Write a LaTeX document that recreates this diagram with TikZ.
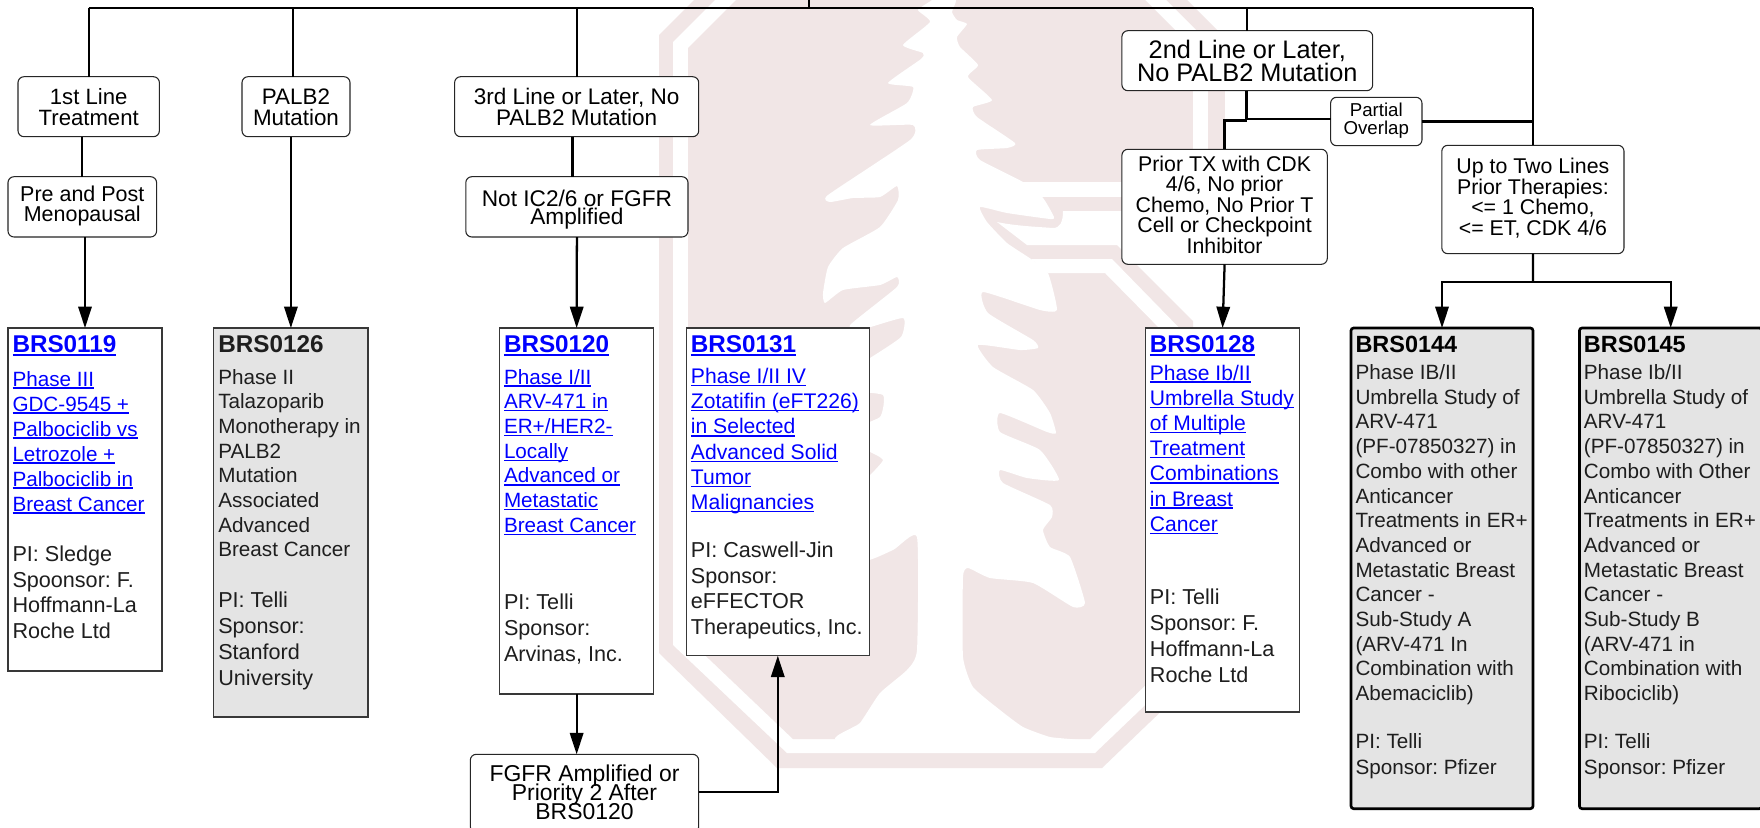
\documentclass[tikz,border=0pt]{standalone}
\usepackage{fontspec}
\setmainfont{Liberation Sans}
\usetikzlibrary{arrows.meta}
\definecolor{logopink}{HTML}{F1E6E6}
\definecolor{linkblue}{HTML}{0000FF}
\definecolor{ink}{HTML}{1E1E1E}
\definecolor{panel}{HTML}{E4E4E4}
\newdimen\px \px=.75pt
\newcommand\lk[1]{\leavevmode\setbox0=\hbox{#1}\rlap{\rule[-2.7\px]{\wd0}{1.3\px}}\box0}
\newcommand\hlk[1]{\leavevmode\setbox0=\hbox{#1}\rlap{\rule[-3.2\px]{\wd0}{1.8\px}}\box0}
\newcommand\hdr[1]{\rule{0pt}{24.5\px}{\fontsize{18.2}{18}\selectfont\bfseries #1}\par}
\newcommand\hdrb[1]{\rule{0pt}{24.5\px}{\fontsize{17.6}{18}\selectfont\bfseries #1}\par}
\newcommand\blk[3]{{\setlength\baselineskip{#2\px}\vspace{\dimexpr#1\px-#2\px\relax}#3\par}}
\newcommand\pib[3]{{\fontsize{16.2}{18.5}\selectfont\setlength\baselineskip{#2\px}\vspace{\dimexpr#1\px-#2\px\relax}#3\par}}
\newcommand\studynode[7]{\node[#6] (#1) at ({(#2+#4)/2},{(#3+#5)/2})
  {\parbox[c][\dimexpr#5\px-#3\px\relax][t]{\dimexpr#4\px-#2\px\relax}{\raggedright\frenchspacing\leftskip=4.5\px\lineskiplimit=-100pt\fontsize{15.5}{18.5}\selectfont #7}};}
\newcommand\decnode[9]{\node[decbox] (#1) at ({(#2+#4)/2},{(#3+#5)/2})
  {\parbox[c][\dimexpr#5\px-#3\px\relax][t]{\dimexpr#4\px-#2\px\relax}{\centering\frenchspacing\lineskiplimit=-100pt\fontsize{#7}{#8}\selectfont\rule{0pt}{#6\px}#9}};}
\tikzset{
  decbox/.style={draw=black!85,line width=.8pt,rounded corners=4.5pt,fill=white,inner sep=0pt,outer sep=0pt,text=black},
  studywhite/.style={draw=black!78,line width=.85pt,fill=white,inner sep=0pt,outer sep=0pt,text=ink},
  studygray/.style={draw=black!78,line width=.85pt,fill=panel,inner sep=0pt,outer sep=0pt,text=ink},
  studybold/.style={draw=black,line width=2pt,rounded corners=2pt,fill=panel,inner sep=0pt,outer sep=0pt,text=ink},
  conn/.style={draw=black,line width=1.7pt},
  arrowconn/.style={conn,-{Triangle[length=16pt,width=10pt]}},
}
\begin{document}
\begin{tikzpicture}[x=.75pt,y=-.75pt]
\useasboundingbox (0,0) rectangle (1760,828);
\clip (0,0) rectangle (1760,828);
\fill[white] (0,0) rectangle (1760,828);
% background emblem
\fill[logopink] (659,35) -- (694,0) -- (1187,0) -- (1222,35) -- (1222,653) -- (1102,768) -- (777,768) -- (659,653) -- cycle;
\fill[white] (673,42) -- (715,0) -- (1166,0) -- (1208,42) -- (1208,645) -- (1095,753) -- (787,753) -- (673,645) -- cycle;
\fill[logopink] (688,48) -- (736,0) -- (1145,0) -- (1193,48) -- (1193,639) -- (1090,739) -- (793,739) -- (688,639) -- cycle;
\fill[logopink] (1193,30) rectangle (1225,200);
\fill[white] (1193,42) rectangle (1208,197);
\fill[white] (1023,182) rectangle (1208,197);
\fill[white] (997,222) .. controls (1015,226) and (1040,227) .. (1053,228) .. controls (1060,228) and (1063,222) .. (1063,211) -- (1230,211) -- (1230,245) -- (1027,245) -- cycle;
\fill[white] (1117,245) -- (1240,245) -- (1240,368) -- cycle;
\fill[white] (1031,259) -- (1112,259) -- (1230,380) -- (1230,400) -- (1105,273) -- (1048,273) -- cycle;
\fill[white] plot[smooth cycle,tension=.3] coordinates {
 (945,-14) (956,0) (952,12) (957,20) (967,24) (957,37) (960,47) (978,65) (968,77) (992,100) (973,107) (977,117) (1015,143) (1007,148) (977,150) (980,160) (1023,182)
 (1043,198) (1054,217) (1050,219) (1007,213) (980,207) (987,222) (1007,243) (1031,259) (1048,273) (1057,310) (1040,310) (983,292) (988,313) (1033,340) (1038,348) (1020,350) (978,345) (993,367) (1033,390) (1050,413) (1056,433) (1047,432) (1000,413) (1000,432) (1040,450) (1059,480) (1027,478) (1000,470) (1003,483) (1050,505) (1052,517) (1043,530) (1050,547) (1070,557) (1085,603) (1073,607) (1033,583) (990,578) (968,568) (963,577) (963,657) (973,687) (1000,710) (1023,727) (1050,737) (1080,741)
 (840,741) (860,723) (880,693) (907,670) (917,650) (917,537) (893,550) (860,560) (850,490) (870,475) (883,460) (870,452) (850,445) (850,430) (880,417) (883,395) (850,390) (850,370) (870,358) (901,337) (903,318) (860,330) (850,325) (897,287) (897,277) (880,285) (843,290) (825,303) (823,293) (828,267) (843,248) (880,227) (898,200) (897,186) (880,197) (853,198) (830,202) (828,195) (910,140) (913,125) (870,125) (907,103) (913,87) (888,83) (921,59) (923,53) (903,45) (930,22) (918,10) (932,0)};
% decision nodes
\decnode{firstline}{18}{76.7}{159.4}{136.7}{27.6}{16.6}{15.75}{1st Line\\Treatment}
\decnode{palb}{242}{76.7}{350}{136.7}{27.6}{16.8}{15.75}{PALB2\\Mutation}
\decnode{thirdline}{454.6}{76.7}{698.7}{136.7}{27.6}{16.9}{15.75}{3rd Line or Later, No\\PALB2 Mutation}
\decnode{premeno}{8}{176.7}{156.6}{237}{24.6}{16.1}{15.4}{Pre and Post\\Menopausal}
\decnode{notic}{465.8}{176.7}{688}{237}{29.3}{17}{14.2}{Not IC2/6 or FGFR\\Amplified}
\decnode{fgfr}{470.3}{754.3}{698.7}{832.5}{27.3}{17.2}{14.3}{FGFR Amplified or\\Priority 2 After\\BRS0120}
\decnode{secondline}{1121.9}{30.7}{1372.7}{90.7}{27.5}{19}{17.5}{2nd Line or Later,\\No PALB2 Mutation}
\decnode{partial}{1330.6}{97.3}{1422}{145.7}{19.5}{14}{13.5}{Partial\\Overlap}
\decnode{priortx}{1121.9}{149.3}{1327.3}{264.3}{21.7}{16}{15.4}{Prior TX with CDK\\4/6, No prior\\Chemo, No Prior T\\Cell or Checkpoint\\Inhibitor}
\decnode{upto}{1441.8}{145.3}{1624}{253.7}{28.3}{16}{15.4}{Up to Two Lines\\Prior Therapies:\\<= 1 Chemo,\\<= ET, CDK 4/6}
% study nodes
\studynode{b119}{8}{328}{162}{671}{studywhite}{\hdr{\color{linkblue}\hlk{BRS0119}}
 \blk{33.5}{25}{\color{linkblue}\lk{Phase III}\\\lk{GDC-9545 +}\\\lk{Palbociclib vs}\\\lk{Letrozole +}\\\lk{Palbociclib in}\\\lk{Breast Cancer}}
 \pib{50.5}{25.7}{PI: Sledge\\Spoonsor: F.\\Hoffmann-La\\Roche Ltd}}
\studynode{b126}{213.8}{328}{368}{717}{studygray}{\hdr{BRS0126}
 \blk{31.5}{24.7}{Phase II\\Talazoparib\\Monotherapy in\\PALB2\\Mutation\\Associated\\Advanced\\Breast Cancer}
 \pib{51}{25.7}{PI: Telli\\Sponsor:\\Stanford\\University}}
\studynode{b120}{499.5}{328}{653.8}{694}{studywhite}{\hdr{\color{linkblue}\hlk{BRS0120}}
 \blk{31.5}{24.7}{\color{linkblue}\lk{Phase I/II}\\\lk{ARV-471 in}\\\lk{ER+/HER2-}\\\lk{Locally}\\\lk{Advanced or}\\\lk{Metastatic}\\\lk{Breast Cancer}}
 \pib{77}{26}{PI: Telli\\Sponsor:\\Arvinas, Inc.}}
\studynode{b131}{686.4}{328}{869.3}{655.7}{studywhite}{\fontsize{15.85}{18.5}\selectfont\hdr{\color{linkblue}\hlk{BRS0131}}
 \blk{31}{25.2}{\color{linkblue}\lk{Phase I/II IV}\\\lk{Zotatifin (eFT226)}\\\lk{in Selected}\\\lk{Advanced Solid}\\\lk{Tumor}\\\lk{Malignancies}}
 \pib{48}{25.7}{PI: Caswell-Jin\\Sponsor:\\eFFECTOR\\Therapeutics, Inc.}}
\studynode{b128}{1145.4}{328}{1299.8}{712}{studywhite}{\fontsize{15.8}{18.5}\selectfont\hdr{\color{linkblue}\hlk{BRS0128}}
 \blk{27.5}{25.2}{\color{linkblue}\lk{Phase Ib/II}\\\lk{Umbrella Study}\\\lk{of Multiple}\\\lk{Treatment}\\\lk{Combinations}\\\lk{in Breast}\\\lk{Cancer}}
 \pib{73}{26}{PI: Telli\\Sponsor: F.\\Hoffmann-La\\Roche Ltd}}
\studynode{b144}{1351}{328}{1533}{808.7}{studybold}{\hdrb{\color{black}BRS0144}
 \blk{27}{24.7}{Phase IB/II\\Umbrella Study of\\ARV-471\\(PF-07850327) in\\Combo with other\\Anticancer\\Treatments in ER+\\Advanced or\\Metastatic Breast\\Cancer -\\Sub-Study A\\(ARV-471 In\\Combination with\\Abemaciclib)}
 \blk{48}{26}{PI: Telli\\Sponsor: Pfizer}}
\studynode{b145}{1579.4}{328}{1762}{808.7}{studybold}{\hdrb{\color{black}BRS0145}
 \blk{27}{24.7}{Phase Ib/II\\Umbrella Study of\\ARV-471\\(PF-07850327) in\\Combo with Other\\Anticancer\\Treatments in ER+\\Advanced or\\Metastatic Breast\\Cancer -\\Sub-Study B\\(ARV-471 in\\Combination with\\Ribociclib)}
 \blk{48}{26}{PI: Telli\\Sponsor: Pfizer}}
% connectors
\coordinate (root) at (809,0);
\coordinate (bus) at (809,8);
\coordinate (palbin) at (293,76.7);
\coordinate (thirdout) at (572.4,136.7);
\coordinate (branchl) at (1246.5,119);
\coordinate (branchp) at (1246.5,120.5);
\coordinate (split) at (1533,282.3);
\coordinate (fgfrturn) at (777.8,792.3);
\draw[conn] (root) -- (bus);
\draw[conn,line width=1.9pt] (firstline.north |- bus) -- (upto.north |- bus);
\draw[conn] (firstline.north |- bus) -- (firstline.north);
\draw[conn] (palbin |- bus) -- (palbin);
\draw[conn] (thirdline.north |- bus) -- (thirdline.north);
\draw[conn] (secondline.north |- bus) -- (secondline.north);
\draw[conn] (upto.north |- bus) -- (upto.north);
\draw[conn] (premeno.north |- firstline.south) -- (premeno.north);
\draw[arrowconn] (premeno.south -| b119.north) -- (b119.north);
\draw[arrowconn] (palb.south -| b126.north) -- (b126.north);
\draw[conn] (thirdout) -- (thirdout |- notic.north);
\draw[arrowconn] (notic.south) -- (b120.north);
\draw[arrowconn] (b120.south) -- (b120.south |- fgfr.north);
\draw[arrowconn] (fgfr.east |- fgfrturn) -- (fgfrturn) -- (b131.south -| fgfrturn);
\draw[conn] (branchl |- secondline.south) -- (branchl) -- (partial.west |- branchl);
\draw[conn] (branchp) -- (branchp -| priortx.north) -- (priortx.north);
\draw[conn] (partial.east) -- (partial.east -| upto.north);
\draw[arrowconn] (priortx.south) -- (b128.north);
\draw[conn] (upto.south) -- (split);
\draw[arrowconn] (split) -| (b144.north);
\draw[arrowconn] (split) -| (b145.north);
\end{tikzpicture}
\end{document}
